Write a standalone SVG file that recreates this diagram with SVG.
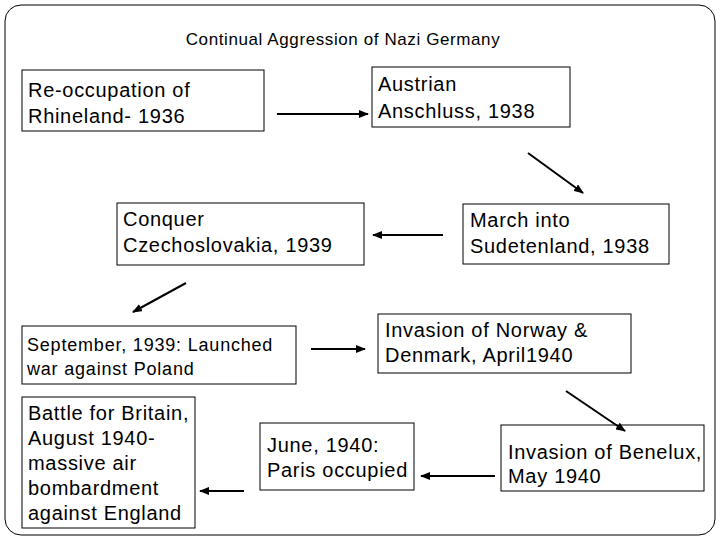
<svg xmlns="http://www.w3.org/2000/svg" width="720" height="540" viewBox="0 0 720 540">
<style>
.b{fill:#fff;stroke:#000;stroke-width:1}
.t{font-family:"Liberation Sans",Arial,sans-serif;font-size:20px;letter-spacing:0.7px;fill:#000}
.s{font-size:18px;letter-spacing:0.8px}
.c line{stroke:#000;stroke-width:2;marker-end:url(#a)}
</style>
<defs><marker id="a" markerWidth="10" markerHeight="8" refX="9" refY="4" orient="auto" markerUnits="userSpaceOnUse"><path d="M0,0L10,4L0,8z" fill="#000"/></marker></defs>
<rect x="5" y="5" width="710" height="530" rx="16" fill="#fff" stroke="#000"/>
<text x="343" y="45" text-anchor="middle" font-family="Liberation Sans,Arial,sans-serif" font-size="17" letter-spacing="0.6">Continual Aggression of Nazi Germany</text>
<g id="n1"><rect class="b" x="22" y="70" width="242" height="61"/><text class="t" x="28" y="97">Re-occupation of</text><text class="t" x="28" y="123">Rhineland- 1936</text></g>
<g id="n2"><rect class="b" x="372" y="67" width="198" height="60"/><text class="t" x="378" y="91">Austrian</text><text class="t" x="378" y="118">Anschluss, 1938</text></g>
<g id="n3"><rect class="b" x="463" y="204" width="206" height="60"/><text class="t" x="470" y="227">March into</text><text class="t" x="470" y="253">Sudetenland, 1938</text></g>
<g id="n4"><rect class="b" x="117" y="203" width="247" height="62"/><text class="t" x="123" y="226">Conquer</text><text class="t" x="123" y="252">Czechoslovakia, 1939</text></g>
<g id="n5"><rect class="b" x="22" y="326" width="274" height="58"/><text class="t s" x="27" y="351">September, 1939: Launched</text><text class="t s" x="27" y="375">war against Poland</text></g>
<g id="n6"><rect class="b" x="378" y="314" width="253" height="59"/><text class="t" x="385" y="337">Invasion of Norway &amp;</text><text class="t" x="385" y="362">Denmark, April1940</text></g>
<g id="n7"><rect class="b" x="22" y="397" width="173" height="131"/><text class="t" x="28" y="420">Battle for Britain,</text><text class="t" x="28" y="445">August 1940-</text><text class="t" x="28" y="470">massive air</text><text class="t" x="28" y="495">bombardment</text><text class="t" x="28" y="520">against England</text></g>
<g id="n8"><rect class="b" x="260" y="423" width="154" height="67"/><text class="t" x="267" y="452">June, 1940:</text><text class="t" x="267" y="477">Paris occupied</text></g>
<g id="n9"><rect class="b" x="501" y="425" width="203" height="66"/><text class="t" x="508" y="459">Invasion of Benelux,</text><text class="t" x="508" y="483">May 1940</text></g>
<g id="connectors" class="c">
<line x1="277" y1="114" x2="368" y2="114"/>
<line x1="528" y1="153" x2="583" y2="193"/>
<line x1="443" y1="235" x2="373" y2="235"/>
<line x1="186" y1="283" x2="133" y2="312"/>
<line x1="311" y1="349" x2="365" y2="349"/>
<line x1="566" y1="391" x2="625" y2="431"/>
<line x1="495" y1="476" x2="421" y2="476"/>
<line x1="244" y1="491" x2="200" y2="491"/>
</g>
</svg>
